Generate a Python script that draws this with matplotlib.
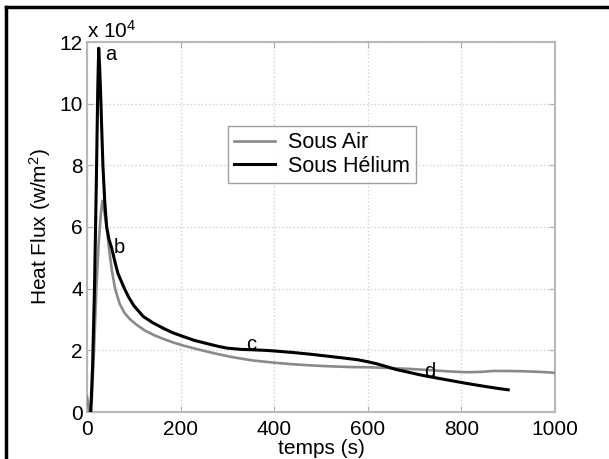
import numpy as np
import matplotlib
matplotlib.use('Agg')
import matplotlib.pyplot as plt
from matplotlib.lines import Line2D

plt.rcParams['font.family'] = ['Liberation Sans', 'DejaVu Sans']
plt.rcParams['mathtext.fontset'] = 'custom'
plt.rcParams['mathtext.rm'] = 'Liberation Sans'
plt.rcParams['mathtext.it'] = 'Liberation Sans'

# Sous Air (grey), flux in units of 1e4 W/m2
air_t = [0, 5, 10, 15, 20, 25, 30, 33, 37, 42, 47, 53, 60, 70, 80, 91, 105,
         124, 145, 165, 185, 207, 240, 273, 310, 355, 400, 438, 480, 521, 560,
         603, 640, 686, 730, 769, 810, 840, 868, 900, 934, 970, 1000]
air_q = [0.5, 0.0, 0.3, 2.0, 4.0, 5.5, 6.5, 6.85, 6.5, 6.0, 5.3, 4.6, 4.0,
         3.5, 3.22, 3.02, 2.84, 2.64, 2.48, 2.36, 2.25, 2.15, 2.02, 1.9, 1.78,
         1.67, 1.6, 1.55, 1.51, 1.48, 1.46, 1.45, 1.43, 1.40, 1.36, 1.32,
         1.29, 1.30, 1.33, 1.33, 1.32, 1.30, 1.27]

# Sous Hélium (black)
he_t = [8, 12, 16, 20, 23, 25, 27, 29, 31, 34, 38, 42, 47, 53, 60, 66, 73,
        80, 90, 100, 120, 140, 165, 185, 207, 230, 256, 280, 300, 330, 350,
        380, 400, 440, 480, 520, 560, 580, 600, 620, 645, 660, 690, 710, 730,
        770, 810, 850, 880, 900]
he_q = [0.0, 1.5, 4.0, 7.5, 10.5, 11.8, 11.2, 10.4, 9.4, 8.0, 6.8, 6.0, 5.6,
        5.3, 4.85, 4.5, 4.25, 4.0, 3.7, 3.45, 3.1, 2.9, 2.7, 2.56, 2.44, 2.32,
        2.22, 2.13, 2.07, 2.03, 2.02, 2.0, 1.98, 1.93, 1.87, 1.80, 1.73, 1.69,
        1.63, 1.56, 1.45, 1.38, 1.28, 1.21, 1.15, 1.04, 0.93, 0.83, 0.76, 0.72]

labels = ['a', 'b', 'c', 'd']
label_t = [50, 70, 350, 733]
label_q = [11.6, 5.35, 2.2, 1.32]

x_ticks = [0, 200, 400, 600, 800, 1000]
y_ticks = [0, 2, 4, 6, 8, 10, 12]

fig = plt.figure(figsize=(6.09, 4.59), dpi=100)
ax = fig.add_axes([87 / 609, 1 - 412 / 459, 468 / 609, 370 / 459])

ax.plot(air_t, air_q, color='#8a8a8a', lw=1.9, label='Sous Air', zorder=3)
ax.plot(he_t, he_q, color='black', lw=2.2, label='Sous Hélium', zorder=4)

for s, t, q in zip(labels, label_t, label_q):
    ax.text(t, q, s, fontsize=14.5, ha='center', va='center', zorder=5)

ax.set_xlim(0, 1000)
ax.set_ylim(0, 12)
ax.set_xticks(x_ticks)
ax.set_yticks(y_ticks)
ax.tick_params(direction='in', length=4, color='#b0b0b0', labelsize=15,
               top=True, right=True, pad=3)
ax.tick_params(axis='x', pad=6)
ax.grid(True, color='#d2d2d2', linestyle=':', linewidth=1)
for sp in ax.spines.values():
    sp.set_color('#b8b8b8')
    sp.set_linewidth(1.5)

ax.set_xlabel('temps (s)', fontsize=15, labelpad=0)
ax.set_ylabel('Heat Flux (w/m$^2$)', fontsize=15, labelpad=5)
ax.text(0.0, 1.0, r'x 10$^4$', transform=ax.transAxes, fontsize=15,
        ha='left', va='bottom')

leg = ax.legend(loc='upper left', bbox_to_anchor=(0.301, 0.773), fontsize=15.5,
                frameon=True, fancybox=False, handlelength=1.9,
                handletextpad=0.6, labelspacing=0.1, borderpad=0.3,
                borderaxespad=0)
leg.get_frame().set_edgecolor('#8a8a8a')
leg.get_frame().set_linewidth(1.0)

# outer frame (top and left borders)
fig.add_artist(Line2D([6 / 609, 607 / 609], [1 - 7 / 459, 1 - 7 / 459],
                      transform=fig.transFigure, color='black', lw=2.5))
fig.add_artist(Line2D([6 / 609, 6 / 609], [0, 1 - 7 / 459],
                      transform=fig.transFigure, color='black', lw=2.5))

fig.savefig('out.png', dpi=100)
